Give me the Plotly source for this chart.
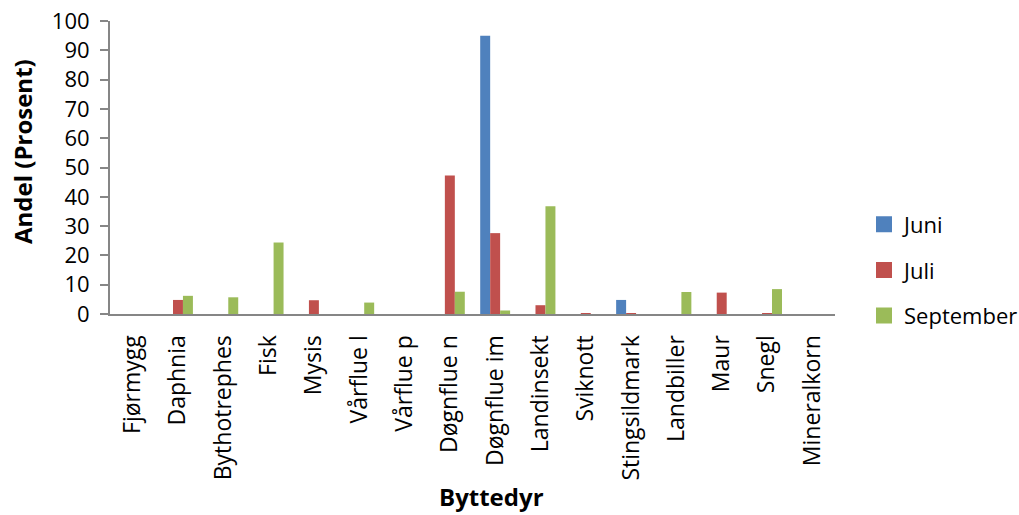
import plotly.graph_objects as go

categories = ["Fjørmygg", "Daphnia", "Bythotrephes", "Fisk", "Mysis", "Vårflue l",
              "Vårflue p", "Døgnflue n", "Døgnflue im", "Landinsekt", "Sviknott",
              "Stingsildmark", "Landbiller", "Maur", "Snegl", "Mineralkorn"]

juni = [0, 0, 0, 0, 0, 0, 0, 0, 95.0, 0, 0, 4.8, 0, 0, 0, 0]
juli = [0, 4.8, 0, 0, 4.7, 0, 0, 47.3, 27.6, 3.0, 0.2, 0.3, 0, 7.3, 0.2, 0]
september = [0, 6.2, 5.7, 24.4, 0, 3.9, 0, 7.6, 1.2, 36.8, 0, 0, 7.5, 0, 8.5, 0]

series = [("Juni", juni, "#4F81BD"), ("Juli", juli, "#C0504D"), ("September", september, "#9BBB59")]

font_family = "Open Sans, Liberation Sans, sans-serif"

fig = go.Figure()
for i, (name, vals, color) in enumerate(series):
    fig.add_trace(go.Bar(x=categories, y=vals, name=name, marker_color=color,
                         marker_line_width=0, showlegend=False))
# Legend entries with larger square swatches
for i, (name, vals, color) in enumerate(series):
    fig.add_trace(go.Scatter(x=[None], y=[None], mode="markers", name=name,
                             marker=dict(symbol="square", size=16, color=color),
                             legendgroup=f"g{i}"))

fig.update_layout(
    width=1019, height=515,
    margin=dict(l=110, r=184, t=21, b=201, autoexpand=False),
    paper_bgcolor="white", plot_bgcolor="white",
    barmode="group", bargap=0.34, bargroupgap=0,
    font=dict(family=font_family, size=22, color="#000000"),
    legend=dict(x=1.04, y=0.15, xanchor="left", yanchor="middle",
                font=dict(size=22), tracegroupgap=14, itemwidth=30),
    showlegend=True,
    annotations=[
        dict(text="<b>Byttedyr</b>", xref="paper", yref="paper", x=0.526, y=-0.622,
             xanchor="center", yanchor="middle", showarrow=False, font=dict(size=24)),
        dict(text="<b>Andel (Prosent)</b>", xref="paper", yref="paper", x=-0.12, y=0.553,
             xanchor="center", yanchor="middle", showarrow=False, textangle=-90,
             font=dict(size=24)),
    ],
)

fig.update_xaxes(
    tickangle=-90, showline=True, linecolor="#868686", linewidth=2,
    ticks="", showgrid=False, tickfont=dict(size=23), ticklabelstandoff=10,
    automargin=False,
)
fig.update_yaxes(
    range=[0, 100], dtick=10, showline=True, linecolor="#868686", linewidth=2,
    ticks="outside", ticklen=8, tickcolor="#868686", tickwidth=2, showgrid=False,
    zeroline=False, tickfont=dict(size=22), ticklabelstandoff=6, automargin=False,
)

fig.write_html("out.html")
